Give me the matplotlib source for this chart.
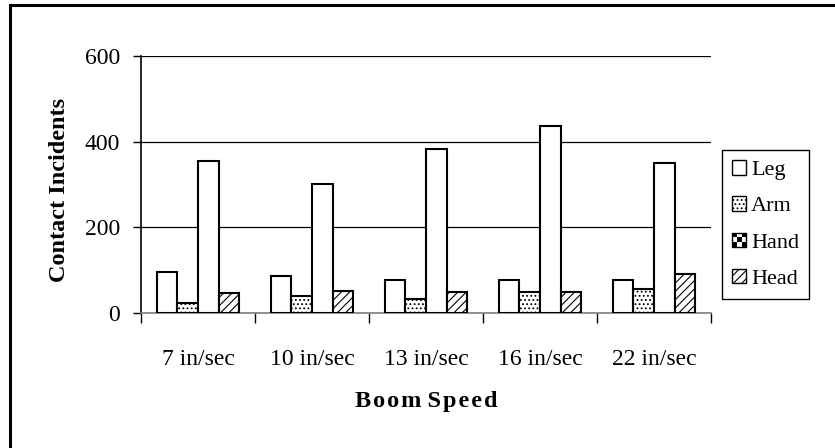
import numpy as np
import matplotlib
matplotlib.use("Agg")
import matplotlib.pyplot as plt
from matplotlib.patches import Patch, Rectangle
from matplotlib.legend_handler import HandlerPatch
from matplotlib.lines import Line2D

plt.rcParams["font.family"] = ["Liberation Serif", "DejaVu Serif"]
plt.rcParams["hatch.linewidth"] = 0.8

categories = ["7 in/sec", "10 in/sec", "13 in/sec", "16 in/sec", "22 in/sec"]
series_names = ["Leg", "Arm", "Hand", "Head"]
leg = [95, 87, 77, 76, 76]
arm = [23, 40, 32, 48, 56]
hand = [356, 300, 384, 437, 351]
head = [47, 52, 48, 48, 91]
y_ticks = [0, 200, 400, 600]

hatches = {"Leg": None, "Arm": "....", "Hand": None, "Head": "////"}


class CheckerHandler(HandlerPatch):
    """Legend key drawn as a small 3x3 checker board."""
    def create_artists(self, legend, orig_handle, xdescent, ydescent,
                       width, height, fontsize, trans):
        side = min(width, height)
        x0 = -xdescent + (width - side) / 2
        y0 = -ydescent + (height - side) / 2
        cell = side / 3
        arts = [Rectangle((x0, y0), side, side, facecolor="white",
                          edgecolor="black", lw=1.0, transform=trans)]
        for i in range(3):
            for j in range(3):
                if (i + j) % 2 == 0:
                    arts.append(Rectangle((x0 + i * cell, y0 + j * cell), cell, cell,
                                          facecolor="black", edgecolor="none",
                                          transform=trans))
        return arts


class SquareHandler(HandlerPatch):
    def create_artists(self, legend, orig_handle, xdescent, ydescent,
                       width, height, fontsize, trans):
        side = min(width, height)
        x0 = -xdescent + (width - side) / 2
        y0 = -ydescent + (height - side) / 2
        p = Rectangle((x0, y0), side, side, facecolor="white", edgecolor="black",
                      hatch=orig_handle.get_hatch(), lw=1.0, transform=trans)
        return [p]


fig = plt.figure(figsize=(8.35, 4.48), dpi=100)
ax = fig.add_axes([141 / 835, 1 - 313 / 448, 570 / 835, 257 / 448])

x = np.arange(len(categories))
width = 0.18
values = [leg, arm, hand, head]
for k, (name, vals) in enumerate(zip(series_names, values)):
    ax.bar(x + (k - 1.5) * width, vals, width, facecolor="white", edgecolor="black",
           linewidth=1.5, hatch=hatches[name], zorder=3)

ax.set_xlim(-0.5, len(categories) - 0.5)
ax.set_ylim(0, 600)
ax.set_yticks(y_ticks)
ax.set_yticklabels([str(v) for v in y_ticks], fontsize=17)
ax.yaxis.grid(True, color="black", linewidth=0.9, zorder=0)
ax.set_axisbelow(True)

ax.set_xticks(np.arange(-0.5, len(categories)), labels=[""] * (len(categories) + 1))
ax.set_xticks(x, labels=categories, minor=True)
ax.tick_params(axis="x", which="major", length=7, width=1, color="black", direction="out")
ax.tick_params(axis="x", which="minor", length=0, labelsize=17, pad=26)
ax.tick_params(axis="y", length=6, width=1, direction="out", pad=9)

for s in ["top", "right"]:
    ax.spines[s].set_visible(False)
ax.spines["left"].set_linewidth(1.2)
ax.spines["bottom"].set_color("#808080")
ax.spines["bottom"].set_linewidth(1.2)

ax.set_ylabel("Contact Incidents", fontsize=17.5, fontweight="bold")
ax.set_xlabel("B o o m  S p e e d".replace(" ", "\u200a").replace("\u200a\u200a", " "),
              fontsize=17.5, fontweight="bold")
ax.yaxis.set_label_coords(-0.125, 0.48)
ax.xaxis.set_label_coords(0.5, -0.305)

handles = [Patch(facecolor="white", edgecolor="black", hatch=hatches[n], label=n)
           for n in series_names]
handler_map = {handles[0]: SquareHandler(), handles[1]: SquareHandler(),
               handles[2]: CheckerHandler(), handles[3]: SquareHandler()}
fig.legend(handles=handles, handler_map=handler_map, loc="upper left",
           bbox_to_anchor=(722 / 835, 1 - 150 / 448), fontsize=16,
           frameon=True, fancybox=False, edgecolor="black", framealpha=1,
           handlelength=0.65, handleheight=0.65, handletextpad=0.2,
           labelspacing=0.72, borderpad=0.45, borderaxespad=0)

# outer chart border (left and top edges visible)
fig.add_artist(Line2D([10 / 835, 10 / 835], [0, 1 - 5 / 448], color="black",
                      linewidth=2.2, transform=fig.transFigure))
fig.add_artist(Line2D([10 / 835, 1], [1 - 5 / 448, 1 - 5 / 448], color="black",
                      linewidth=2.2, transform=fig.transFigure))

fig.savefig("out.png", dpi=100)
